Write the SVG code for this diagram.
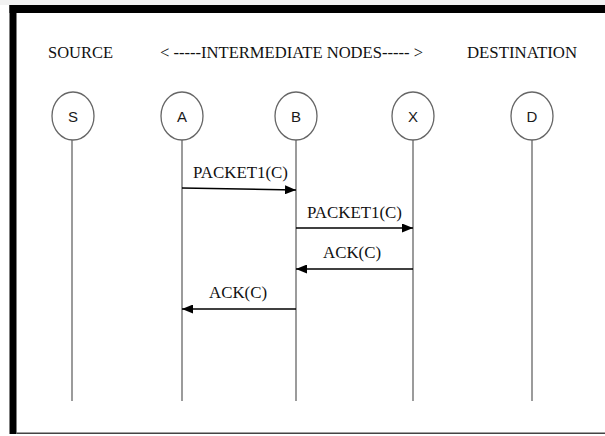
<svg xmlns="http://www.w3.org/2000/svg" width="605" height="436" viewBox="0 0 605 436">
<style>
.hdr{font-family:"Liberation Serif","Times New Roman",serif;font-size:16.5px;fill:#111}
.lbl{font-family:"Liberation Serif","Times New Roman",serif;font-size:16px;fill:#111}
.nd{fill:#fff;stroke:#666;stroke-width:1.3}
.ndt{font-family:"Liberation Sans",Arial,sans-serif;font-size:15px;fill:#1a1a1a;text-anchor:middle}
.life{stroke:#7a7a7a;stroke-width:1.5}
.msg{stroke:#000;stroke-width:1.4;fill:none}
</style>
<defs>
<marker id="ah" markerWidth="11" markerHeight="9" refX="11" refY="4.5" orient="auto" markerUnits="userSpaceOnUse">
<path d="M0,0 L11,4.5 L0,9 Z" fill="#000"/>
</marker>
</defs>
<rect x="0" y="0" width="605" height="436" fill="#fff"/>
<rect x="0" y="0" width="605" height="5" fill="#f2f2f2"/>
<rect x="9.5" y="5" width="595.5" height="8" fill="#000"/>
<rect x="9.5" y="5" width="7" height="429" fill="#000"/>
<rect x="16.5" y="432.5" width="588.5" height="1.5" fill="#444"/>

<g id="headers">
<text class="hdr" x="48" y="58" textLength="65" lengthAdjust="spacingAndGlyphs">SOURCE</text>
<text class="hdr" x="160" y="58" textLength="263" lengthAdjust="spacingAndGlyphs">&lt; -----INTERMEDIATE NODES----- &gt;</text>
<text class="hdr" x="467" y="58" textLength="110" lengthAdjust="spacingAndGlyphs">DESTINATION</text>
</g>

<g id="node-S"><line class="life" x1="72" y1="140" x2="72" y2="401"/><ellipse class="nd" cx="73" cy="116" rx="21" ry="24"/><text class="ndt" x="73" y="121.5">S</text></g>
<g id="node-A"><line class="life" x1="182" y1="140" x2="182" y2="401"/><ellipse class="nd" cx="182" cy="116" rx="21" ry="24"/><text class="ndt" x="182" y="121.5">A</text></g>
<g id="node-B"><line class="life" x1="296" y1="140" x2="296" y2="401"/><ellipse class="nd" cx="296" cy="116" rx="21" ry="24"/><text class="ndt" x="296" y="121.5">B</text></g>
<g id="node-X"><line class="life" x1="413" y1="140" x2="413" y2="401"/><ellipse class="nd" cx="413" cy="116" rx="21" ry="24"/><text class="ndt" x="413" y="121.5">X</text></g>
<g id="node-D"><line class="life" x1="532" y1="140" x2="532" y2="401"/><ellipse class="nd" cx="532" cy="116" rx="21" ry="24"/><text class="ndt" x="532" y="121.5">D</text></g>

<g id="connectors">
<line class="msg" x1="182" y1="188" x2="296" y2="190" marker-end="url(#ah)"/>
<text class="lbl" x="193" y="178" textLength="95" lengthAdjust="spacingAndGlyphs">PACKET1(C)</text>
<line class="msg" x1="296" y1="228" x2="413" y2="228" marker-end="url(#ah)"/>
<text class="lbl" x="307" y="218" textLength="95" lengthAdjust="spacingAndGlyphs">PACKET1(C)</text>
<line class="msg" x1="413" y1="269" x2="296" y2="269" marker-end="url(#ah)"/>
<text class="lbl" x="323" y="258" textLength="58" lengthAdjust="spacingAndGlyphs">ACK(C)</text>
<line class="msg" x1="296" y1="309" x2="182" y2="309" marker-end="url(#ah)"/>
<text class="lbl" x="209" y="298" textLength="58" lengthAdjust="spacingAndGlyphs">ACK(C)</text>
</g>
</svg>
